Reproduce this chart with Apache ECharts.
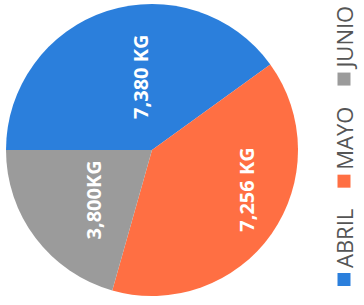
<!DOCTYPE html>
<html lang="es">
<head>
    <meta charset="UTF-8">
    <title>Kg por mes</title>
    <script src="https://cdn.jsdelivr.net/npm/echarts@6/dist/echarts.min.js"></script>
    <style>
        html, body { margin: 0; padding: 0; overflow: hidden; background: #fff; }
        /* el grafico se dibuja en vertical y se gira -90 grados */
        #main {
            position: absolute; left: 0; top: 0;
            width: 305px; height: 364px;
            transform-origin: 0 0;
            transform: translate(0, 305px) rotate(-90deg);
        }
    </style>
</head>
<body>
<div id="main"></div>

<script type="text/javascript">
    // datos
    var meses = ['ABRIL', 'MAYO', 'JUNIO'];
    var kilos = [7380, 7256, 3800];
    var etiquetas = ['7,380 KG', '7,256 KG', '3,800KG'];

    var colores = ['#2b7fdc', '#ff6f43', '#9b9b9b'];
    var desplazamientos = [[1, 12], [4, 32], [-4, 2]]; // ajuste fino de etiquetas

    var myChart = echarts.init(document.getElementById('main'), null, {renderer: 'svg'});

    var option = {
        color: colores,
        legend: {
            data: meses,
            orient: 'horizontal',
            left: 19,
            top: 333,
            width: 400,
            padding: 0,
            itemWidth: 13,
            itemHeight: 13,
            itemGap: 21,
            icon: 'rect',
            textStyle: {
                fontFamily: 'Open Sans',
                fontSize: 22,
                color: '#555'
            }
        },
        series: [{
            type: 'pie',
            center: [155, 152],
            radius: 146,
            startAngle: 90,
            clockwise: true,
            silent: true,
            label: {
                position: 'inside',
                color: '#fff',
                fontFamily: 'Open Sans',
                fontWeight: 'bold',
                fontSize: 20
            },
            labelLine: {show: false},
            data: meses.map(function (m, i) {
                return {
                    name: m,
                    value: kilos[i],
                    label: {formatter: etiquetas[i], offset: desplazamientos[i]}
                };
            })
        }]
    };

    myChart.setOption(option);
</script>
</body>
</html>
